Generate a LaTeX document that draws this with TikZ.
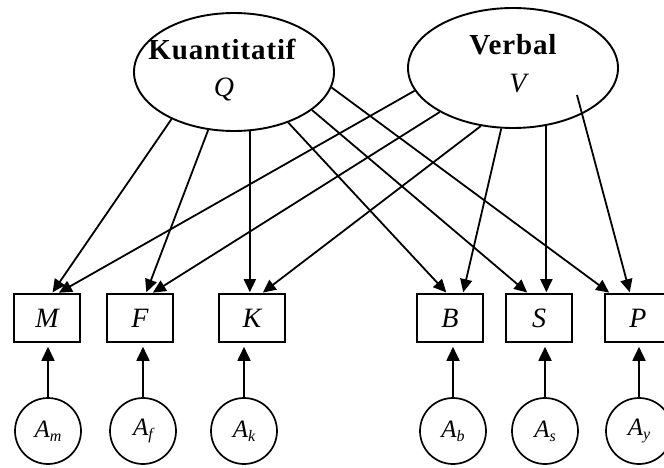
\documentclass[tikz,border=0pt]{standalone}
\usepackage{fontspec}
\setmainfont{Liberation Serif}
\usetikzlibrary{arrows.meta,shapes.geometric}
\begin{document}
\begin{tikzpicture}[x=1pt,y=-1pt,
  lat/.style={draw, ellipse, line width=1.9pt, inner sep=0pt},
  lattitle/.style={anchor=base, font=\fontsize{29}{29}\selectfont\bfseries\addfontfeatures{LetterSpace=3}},
  latsym/.style={anchor=base, font=\fontsize{28}{28}\selectfont\itshape},
  obs/.style={draw, rectangle, line width=1.6pt, minimum width=66pt, minimum height=48pt, inner sep=0pt, font=\fontsize{28}{28}\selectfont\itshape},
  err/.style={draw, circle, line width=1.7pt, minimum size=66pt, inner sep=0pt, font=\fontsize{25}{25}\selectfont\itshape},
  arr/.style={line width=1.8pt, -{Triangle[length=13pt,width=12pt]}, shorten >=1pt},
  earr/.style={line width=1.8pt, -{Triangle[length=14pt,width=13pt]}, shorten >=4pt}]
\useasboundingbox (0,0) rectangle (664,468);
\fill[white] (0,0) rectangle (664,468);

% latent ellipses
\node[lat, minimum width=200pt, minimum height=118pt] (Q) at (234,72) {};
\node[lattitle] (Qt) at (222,60) {Kuantitatif};
\node[latsym] (Qs) at (224,97) {Q};
\node[lat, minimum width=210pt, minimum height=120pt] (V) at (513,68) {};
\node[lattitle] (Vt) at (513,55) {Verbal};
\node[latsym] (Vs) at (518,93) {V};

% observed boxes
\node[obs] (M) at (47,318) {M};
\node[obs] (F) at (140,318) {F};
\node[obs] (K) at (252,318) {K};
\node[obs] (B) at (450,318) {B};
\node[obs] (S) at (539,318) {S};
\node[obs] (P) at (638,318) {P};

% error circles
\newcommand{\errlab}[1]{A\raisebox{-4pt}{\fontsize{16}{16}\selectfont #1}}
\node[err] (Am) at (48,431) {\errlab{m}};
\node[err] (Af) at (143,431) {\errlab{f}};
\node[err] (Ak) at (244,431) {\errlab{k}};
\node[err] (Ab) at (453,431) {\errlab{b}};
\node[err] (As) at (545,431) {\errlab{s}};
\node[err] (Ay) at (639,431) {\errlab{y}};

% error arrows
\foreach \e/\b in {Am/M, Af/F, Ak/K, Ab/B, As/S, Ay/P}
  \draw[earr] (\e.north) -- (\e.north |- \b.south);

% Q arrows
\draw[arr] (Q.217) -- ([xshift=5pt]M.north);
\draw[arr] (Q.246) -- ([xshift=6pt]F.north);
\draw[arr] (Q.285) -- (Q.285 |- K.north);
\draw[arr] (Q.317) -- ([xshift=-3pt]B.north);
\draw[arr] (Q.334) -- ([xshift=-11pt]S.north);
\draw[arr] (Q.351) -- ([xshift=-28pt]P.north);

% V arrows
\coordinate (vpstart) at (577,95);
\draw[arr] (V.193) -- ([xshift=11pt]M.north);
\draw[arr] (V.211) -- ([xshift=12pt]F.north);
\draw[arr] (V.241) -- ([xshift=10pt]K.north);
\draw[arr] (V.259) -- ([xshift=13pt]B.north);
\draw[arr] (V.300) -- (V.300 |- S.north);
\draw[arr] (vpstart) -- ([xshift=-8pt]P.north);
\end{tikzpicture}
\end{document}
